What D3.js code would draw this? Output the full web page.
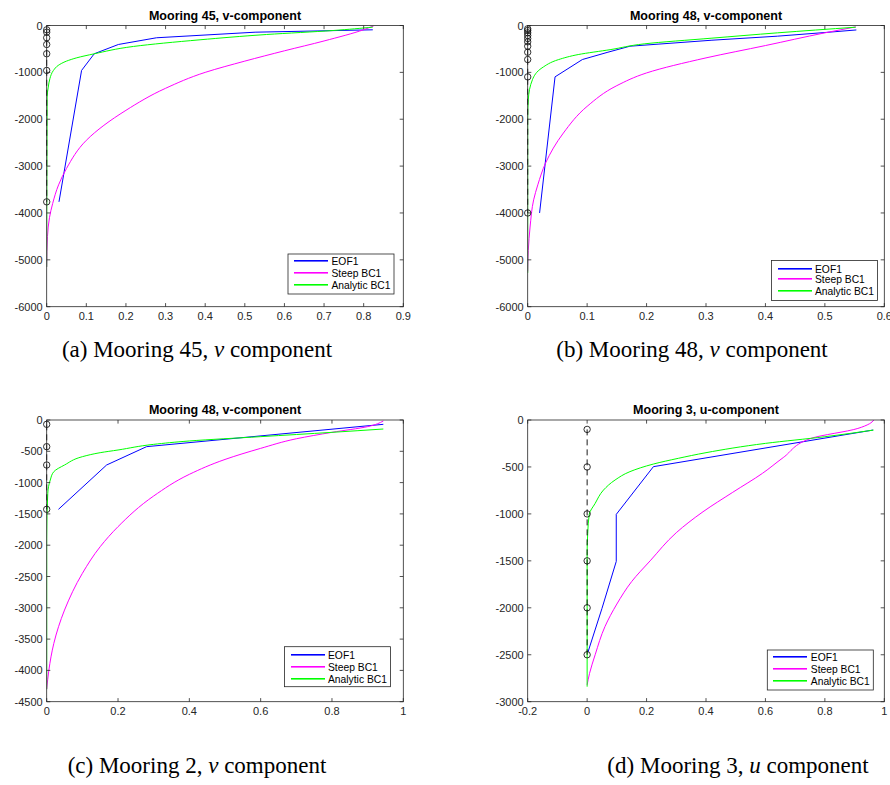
<!DOCTYPE html>
<html><head><meta charset="utf-8">
<script src="https://cdn.jsdelivr.net/npm/d3@7"></script>
<style>body{margin:0;background:#fff;} svg{display:block}</style>
</head><body>
<svg id="fig" width="890" height="785"></svg>
<script>
// ---------------- DATA ----------------
const seriesNames = ["EOF1", "Steep BC1", "Analytic BC1"];

// (a) Mooring 45, v-component
const a_obsDepth   = [-92, -143, -262, -405, -603, -959, -3763];
const a_eofDepth   = [-92, -143, -262, -405, -603, -959, -3763];
const a_eofVal     = [0.823, 0.526, 0.277, 0.181, 0.120, 0.088, 0.031];
const a_steepDepth = [-10, -90, -330, -540, -760, -1000, -1340, -1810, -2450, -3050, -3400, -3800, -4100, -4500, -5150];
const a_steepVal   = [0.825, 0.80, 0.70, 0.60, 0.50, 0.40, 0.30, 0.20, 0.10, 0.05, 0.03, 0.015, 0.007, 0.002, 0];
const a_anaDepth   = [-35, -107, -192, -305, -447, -604, -689, -760, -852, -959, -1136, -1314, -1527, -5150];
const a_anaVal     = [0.823, 0.723, 0.555, 0.387, 0.219, 0.120, 0.076, 0.050, 0.029, 0.017, 0.008, 0.004, 0.001, 0];
const a_xTicks = [0, 0.1, 0.2, 0.3, 0.4, 0.5, 0.6, 0.7, 0.8, 0.9];
const a_xLabels = ["0", "0.1", "0.2", "0.3", "0.4", "0.5", "0.6", "0.7", "0.8", "0.9"];
const a_yTicks = [0, -1000, -2000, -3000, -4000, -5000, -6000];
const a_yLabels = ["0", "-1000", "-2000", "-3000", "-4000", "-5000", "-6000"];

// (b) Mooring 48, v-component
const b_obsDepth   = [-70, -107, -156, -214, -278, -348, -442, -570, -726, -1096, -4000];
const b_eofDepth   = [-95, -150, -228, -314, -442, -570, -726, -1096, -4000];
const b_eofVal     = [0.553, 0.50, 0.42, 0.31, 0.172, 0.135, 0.092, 0.046, 0.020];
const b_steepDepth = [-30, -157, -428, -691, -1012, -1283, -1725, -2295, -2937, -3400, -3720, -4300, -4800, -5250];
const b_steepVal   = [0.552, 0.50, 0.40, 0.30, 0.20, 0.15, 0.10, 0.06, 0.03, 0.017, 0.010, 0.004, 0.001, 0];
const b_anaDepth   = [-36, -157, -270, -392, -513, -620, -727, -905, -1155, -1582, -2000, -5280];
const b_anaVal     = [0.552, 0.42, 0.31, 0.196, 0.14, 0.085, 0.052, 0.024, 0.008, 0.001, 0, 0];
const b_xTicks = [0, 0.1, 0.2, 0.3, 0.4, 0.5, 0.6];
const b_xLabels = ["0", "0.1", "0.2", "0.3", "0.4", "0.5", "0.6"];
const b_yTicks = [0, -1000, -2000, -3000, -4000, -5000, -6000];
const b_yLabels = ["0", "-1000", "-2000", "-3000", "-4000", "-5000", "-6000"];

// (c) Mooring 2, v-component (panel title reads "Mooring 48")
const c_obsDepth   = [-69, -426, -719, -1427];
const c_eofDepth   = [-69, -426, -719, -1427];
const c_eofVal     = [0.944, 0.28, 0.168, 0.033];
const c_steepDepth = [-16, -106, -197, -300, -453, -630, -868, -1214, -1704, -2024, -2450, -3036, -3568, -4000, -4300];
const c_steepVal   = [0.944, 0.90, 0.80, 0.70, 0.60, 0.50, 0.40, 0.30, 0.20, 0.15, 0.10, 0.05, 0.02, 0.006, 0];
const c_anaDepth   = [-144, -197, -266, -335, -389, -479, -522, -586, -719, -825, -959, -1170, -1890, -4300];
const c_anaVal     = [0.944, 0.80, 0.60, 0.40, 0.30, 0.20, 0.15, 0.10, 0.05, 0.02, 0.01, 0.003, 0, 0];
const c_xTicks = [0, 0.2, 0.4, 0.6, 0.8, 1];
const c_xLabels = ["0", "0.2", "0.4", "0.6", "0.8", "1"];
const c_yTicks = [0, -500, -1000, -1500, -2000, -2500, -3000, -3500, -4000, -4500];
const c_yLabels = ["0", "-500", "-1000", "-1500", "-2000", "-2500", "-3000", "-3500", "-4000", "-4500"];

// (d) Mooring 3, u-component
const d_obsDepth   = [-100, -500, -1000, -1500, -2000, -2500];
const d_eofDepth   = [-107, -497, -1005, -1506, -2006, -2470];
const d_eofVal     = [0.962, 0.223, 0.098, 0.098, 0.05, 0.003];
const d_steepDepth = [0, -40, -90, -195, -400, -568, -770, -977, -1200, -1500, -1720, -1960, -2200, -2500, -2700, -2820];
const d_steepVal   = [0.965, 0.95, 0.911, 0.754, 0.66, 0.59, 0.49, 0.39, 0.30, 0.212, 0.15, 0.10, 0.06, 0.027, 0.008, 0];
const d_anaDepth   = [-107, -178, -249, -348, -408, -469, -550, -639, -746, -888, -1005, -1207, -1400, -2840];
const d_anaVal     = [0.964, 0.80, 0.60, 0.40, 0.307, 0.223, 0.144, 0.094, 0.055, 0.027, 0.007, 0.002, 0, 0];
const d_xTicks = [-0.2, 0, 0.2, 0.4, 0.6, 0.8, 1];
const d_xLabels = ["-0.2", "0", "0.2", "0.4", "0.6", "0.8", "1"];
const d_yTicks = [0, -500, -1000, -1500, -2000, -2500, -3000];
const d_yLabels = ["0", "-500", "-1000", "-1500", "-2000", "-2500", "-3000"];

// ---------------- STYLE / LAYOUT ----------------
const colors = ["#0000ff", "#ff00ff", "#00ff00"];
const axisColor = "#262626";
const tickFont = "'Liberation Sans', Arial, Helvetica, sans-serif";

const panels = [
  {title: "Mooring 45, v-component", caption: ["(a) Mooring 45, ", "v", " component"],
   box: [46.7, 25.5, 403.3, 306.7], xDom: [0, 0.9], yDom: [-6000, 0],
   xTicks: a_xTicks, xLabels: a_xLabels, yTicks: a_yTicks, yLabels: a_yLabels,
   obs: a_obsDepth,
   series: [[a_eofDepth, a_eofVal], [a_steepDepth, a_steepVal], [a_anaDepth, a_anaVal]],
   legend: [288, 254], capX: 197, capY: 357},
  {title: "Mooring 48, v-component", caption: ["(b) Mooring 48, ", "v", " component"],
   box: [527.7, 25.5, 884.3, 306.7], xDom: [0, 0.6], yDom: [-6000, 0],
   xTicks: b_xTicks, xLabels: b_xLabels, yTicks: b_yTicks, yLabels: b_yLabels,
   obs: b_obsDepth,
   series: [[b_eofDepth, b_eofVal], [b_steepDepth, b_steepVal], [b_anaDepth, b_anaVal]],
   legend: [771.5, 260.5], capX: 692, capY: 357},
  {title: "Mooring 48, v-component", caption: ["(c) Mooring 2, ", "v", " component"],
   box: [46.7, 420, 403.3, 701.7], xDom: [0, 1], yDom: [-4500, 0],
   xTicks: c_xTicks, xLabels: c_xLabels, yTicks: c_yTicks, yLabels: c_yLabels,
   obs: c_obsDepth,
   series: [[c_eofDepth, c_eofVal], [c_steepDepth, c_steepVal], [c_anaDepth, c_anaVal]],
   legend: [284.5, 646.7], capX: 197, capY: 773},
  {title: "Mooring 3, u-component", caption: ["(d) Mooring 3, ", "u", " component"],
   box: [527.7, 420, 884.3, 701.7], xDom: [-0.2, 1], yDom: [-3000, 0],
   xTicks: d_xTicks, xLabels: d_xLabels, yTicks: d_yTicks, yLabels: d_yLabels,
   obs: d_obsDepth,
   series: [[d_eofDepth, d_eofVal], [d_steepDepth, d_steepVal], [d_anaDepth, d_anaVal]],
   legend: [767.3, 650], capX: 738, capY: 773}
];

const svg = d3.select("#fig");
svg.append("rect").attr("width", 890).attr("height", 785).attr("fill", "#fff");

panels.forEach((p, pi) => {
  const [x0, y0, x1, y1] = p.box;
  const x = d3.scaleLinear().domain(p.xDom).range([x0, x1]);
  const y = d3.scaleLinear().domain(p.yDom).range([y1, y0]);
  const g = svg.append("g");
  const tl = 3.6;

  const cid = "clip" + pi;
  g.append("clipPath").attr("id", cid).append("rect")
    .attr("x", x0).attr("y", y0).attr("width", x1 - x0).attr("height", y1 - y0);

  const plot = g.append("g").attr("clip-path", `url(#${cid})`);

  p.series.forEach((s, i) => {
    const pts = s[0].map((d, k) => [s[1][k], d]);
    const line = d3.line().x(d => x(d[0])).y(d => y(d[1]))
      .curve(i === 0 ? d3.curveLinear : d3.curveMonotoneY);
    plot.append("path").attr("d", line(pts)).attr("fill", "none")
      .attr("stroke", colors[i]).attr("stroke-width", 1);
  });

  const obsExt = d3.extent(p.obs);
  g.append("line").attr("x1", x(0)).attr("x2", x(0))
    .attr("y1", y(obsExt[1])).attr("y2", y(obsExt[0]))
    .attr("stroke", "#000").attr("stroke-width", 0.9).attr("stroke-dasharray", "6,4");
  g.selectAll(null).data(p.obs).enter().append("circle")
    .attr("cx", x(0)).attr("cy", d => y(d)).attr("r", 3.2)
    .attr("fill", "none").attr("stroke", "#000").attr("stroke-width", 0.8);

  g.append("rect").attr("x", x0).attr("y", y0).attr("width", x1 - x0).attr("height", y1 - y0)
    .attr("fill", "none").attr("stroke", axisColor).attr("stroke-width", 0.8);

  p.xTicks.forEach((t, k) => {
    const xx = x(t);
    g.append("line").attr("x1", xx).attr("x2", xx).attr("y1", y1).attr("y2", y1 - tl)
      .attr("stroke", axisColor).attr("stroke-width", 0.8);
    g.append("line").attr("x1", xx).attr("x2", xx).attr("y1", y0).attr("y2", y0 + tl)
      .attr("stroke", axisColor).attr("stroke-width", 0.8);
    g.append("text").attr("x", xx).attr("y", y1 + 13.5).attr("text-anchor", "middle")
      .attr("font-family", tickFont).attr("font-size", 11).attr("fill", axisColor)
      .text(p.xLabels[k]);
  });
  p.yTicks.forEach((t, k) => {
    const yy = y(t);
    g.append("line").attr("x1", x0).attr("x2", x0 + tl).attr("y1", yy).attr("y2", yy)
      .attr("stroke", axisColor).attr("stroke-width", 0.8);
    g.append("line").attr("x1", x1).attr("x2", x1 - tl).attr("y1", yy).attr("y2", yy)
      .attr("stroke", axisColor).attr("stroke-width", 0.8);
    g.append("text").attr("x", x0 - 4).attr("y", yy + 4).attr("text-anchor", "end")
      .attr("font-family", tickFont).attr("font-size", 11).attr("fill", axisColor)
      .text(p.yLabels[k]);
  });

  g.append("text").attr("x", (x0 + x1) / 2).attr("y", y0 - 6).attr("text-anchor", "middle")
    .attr("font-family", tickFont).attr("font-size", 12.5).attr("font-weight", "bold")
    .attr("fill", "#000").text(p.title);

  // legend
  const [lx, ly] = p.legend;
  const lg = svg.append("g");
  lg.append("rect").attr("x", lx).attr("y", ly).attr("width", 106).attr("height", 40)
    .attr("fill", "#fff").attr("stroke", axisColor).attr("stroke-width", 0.8);
  seriesNames.forEach((n, i) => {
    let ry = Math.round(ly + 7 + i * 11.9);
    if (ry % 2 === 1) ry -= 1;               // align to even row
    lg.append("rect").attr("x", Math.round(lx + 6)).attr("y", ry)
      .attr("width", 34).attr("height", 1.6)
      .attr("fill", colors[i]);
    lg.append("text").attr("x", lx + 43.5).attr("y", ry + 4.5)
      .attr("font-family", tickFont).attr("font-size", 10.3).attr("fill", "#000").text(n);
  });

  const cap = svg.append("text").attr("x", p.capX).attr("y", p.capY).attr("text-anchor", "middle")
    .attr("font-family", "'Liberation Serif', 'Times New Roman', serif").attr("font-size", 23)
    .attr("fill", "#000");
  cap.append("tspan").text(p.caption[0]);
  cap.append("tspan").attr("font-style", "italic").text(p.caption[1]);
  cap.append("tspan").text(p.caption[2]);
});
</script>
</body></html>
